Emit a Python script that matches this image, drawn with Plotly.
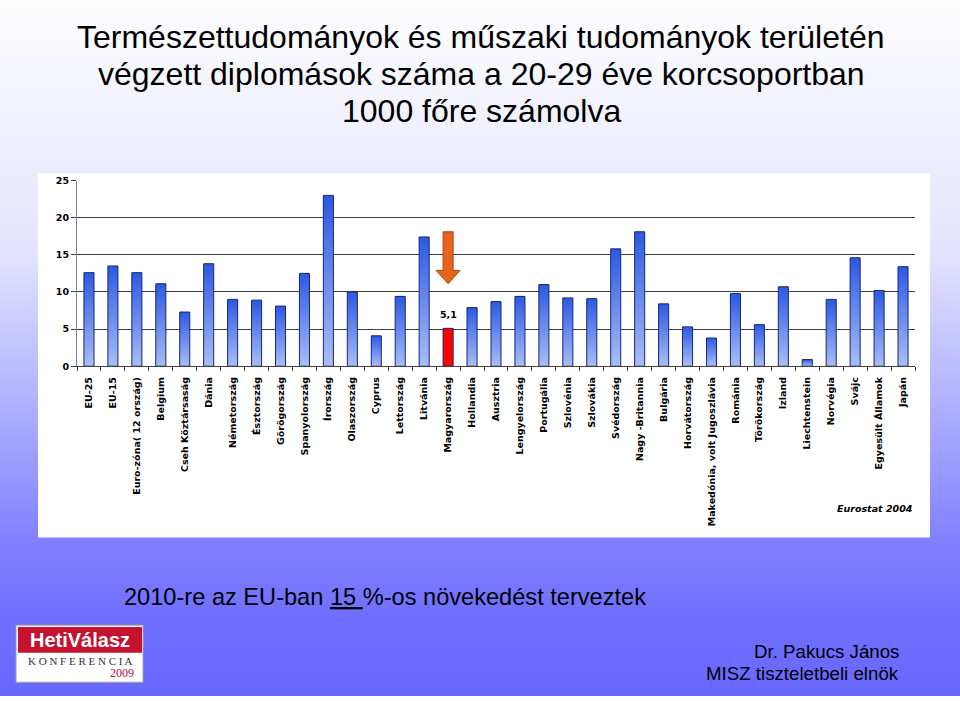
import zlib, struct, base64
import plotly.graph_objects as go

# ---------------- data ----------------
categories = [
    "EU-25", "EU-15", "Euro-zóna( 12 ország)", "Belgium", "Cseh Köztársaság", "Dánia",
    "Németország", "Észtország", "Görögország", "Spanyolország", "Írország", "Olaszország",
    "Cyprus", "Lettország", "Litvánia", "Magyarország", "Hollandia", "Ausztria",
    "Lengyelország", "Portugália", "Szlovénia", "Szlovákia", "Svédország", "Nagy -Britannia",
    "Bulgária", "Horvátország", "Makedónia, volt Jugoszlávia", "Románia", "Törökország",
    "Izland", "Liechtenstein", "Norvégia", "Svájc", "Egyesült Államok", "Japán",
]
values = [
    12.6, 13.5, 12.6, 11.1, 7.3, 13.8,
    9.0, 8.9, 8.1, 12.5, 23.0, 10.0,
    4.1, 9.4, 17.4, 5.1, 7.9, 8.7,
    9.4, 11.0, 9.2, 9.1, 15.8, 18.1,
    8.4, 5.3, 3.8, 9.8, 5.6,
    10.7, 0.9, 9.0, 14.6, 10.2, 13.4,
]
highlight = "Magyarország"
highlight_label = "5,1"
y_ticks = [0, 5, 10, 15, 20, 25]

title_lines = [
    "Természettudományok és műszaki tudományok területén",
    "végzett diplomások száma a 20-29 éve korcsoportban",
    "1000 főre számolva",
]
source_text = "Eurostat 2004"
bottom_text = "2010-re az EU-ban <u>15 </u>%-os növekedést terveztek"
author_lines = ["Dr. Pakucs János", "MISZ tiszteletbeli elnök"]

# ---------------- geometry / style ----------------
W, H = 960, 701
def px(x):
    return x / W
def py(y):
    return 1 - y / H

BAR_W = 0.42
BAR_TOP = "#2b59e6"
BAR_BOTTOM = "#a9bdf8"
BAR_EDGE = "#1a2766"

# background gradient (r=g value, b=255) by pixel row
grad_stops = [(0, 253), (150, 238), (250, 228), (540, 130), (620, 111), (701, 104)]
def grad_val(y):
    for (y0, v0), (y1, v1) in zip(grad_stops[:-1], grad_stops[1:]):
        if y0 <= y <= y1:
            t = (y - y0) / (y1 - y0)
            return int(round(v0 + (v1 - v0) * t))
    return grad_stops[-1][1]

def png_uri(w, h):
    raw = b""
    for y in range(h):
        v = grad_val(y + 0.5)
        raw += b"\x00" + bytes([v, v, 255]) * w
    def chunk(t, d):
        return struct.pack(">I", len(d)) + t + d + struct.pack(">I", zlib.crc32(t + d) & 0xffffffff)
    png = (b"\x89PNG\r\n\x1a\n"
           + chunk(b"IHDR", struct.pack(">IIBBBBB", w, h, 8, 2, 0, 0, 0))
           + chunk(b"IDAT", zlib.compress(raw))
           + chunk(b"IEND", b""))
    return "data:image/png;base64," + base64.b64encode(png).decode()

fig = go.Figure()

# bars as filled polygons with vertical gradient
for i, (cat, v) in enumerate(zip(categories, values)):
    xs = [i - BAR_W / 2, i + BAR_W / 2, i + BAR_W / 2, i - BAR_W / 2, i - BAR_W / 2]
    ys = [0, 0, v, v, 0]
    tr = dict(x=xs, y=ys, mode="lines", fill="toself",
              line=dict(color=BAR_EDGE, width=1), hoverinfo="skip", showlegend=False)
    if cat == highlight:
        tr["fillcolor"] = "#ff0000"
    else:
        tr["fillgradient"] = dict(type="vertical",
                                  colorscale=[[0, BAR_BOTTOM], [1, BAR_TOP]])
    fig.add_trace(go.Scatter(**tr))

# orange arrow pointing at the highlighted bar
hi = categories.index(highlight)
hv = values[hi]
a_tip, a_neck, a_top = hv + 6.0, hv + 7.8, hv + 13.0
sh, hh = 0.21, 0.5
fig.add_trace(go.Scatter(
    x=[hi - sh, hi + sh, hi + sh, hi + hh, hi, hi - hh, hi - sh, hi - sh],
    y=[a_top, a_top, a_neck, a_neck, a_tip, a_neck, a_neck, a_top],
    mode="lines", fill="toself", fillcolor="#e8641c",
    line=dict(color="#a8460f", width=1), hoverinfo="skip", showlegend=False))

annotations = []
annotations.append(dict(x=hi, y=hv + 1.9, xref="x", yref="y", text="<b>" + highlight_label + "</b>",
                        showarrow=False, font=dict(family="DejaVu Sans", size=9.5, color="black")))

# titles
for txt, yc in zip(title_lines, [31, 69, 107]):
    annotations.append(dict(x=px(481), y=py(yc), xref="paper", yref="paper", text=txt,
                            showarrow=False, xanchor="center", yanchor="middle",
                            font=dict(family="Liberation Sans, Arial", size=32, color="black")))

annotations.append(dict(x=px(915), y=py(511), xref="paper", yref="paper",
                        text="<b><i>" + source_text + "</i></b>", showarrow=False,
                        xanchor="right", yanchor="middle",
                        font=dict(family="DejaVu Sans", size=9.5, color="black")))

annotations.append(dict(x=px(122), y=py(600), xref="paper", yref="paper", text=bottom_text,
                        showarrow=False, xanchor="left", yanchor="middle",
                        font=dict(family="Liberation Sans, Arial", size=23.6, color="black")))

for txt, yc in zip(author_lines, [656, 678]):
    annotations.append(dict(x=px(901), y=py(yc), xref="paper", yref="paper", text=txt,
                            showarrow=False, xanchor="right", yanchor="middle",
                            font=dict(family="Liberation Sans, Arial", size=18.7, color="black")))

# logo texts
annotations.append(dict(x=px(80), y=py(644), xref="paper", yref="paper", text="<b>HetiVálasz</b>",
                        showarrow=False, xanchor="center", yanchor="middle",
                        font=dict(family="Liberation Sans Narrow, Liberation Sans", size=20, color="white")))
annotations.append(dict(x=px(80), y=py(665), xref="paper", yref="paper",
                        text="K O N F E R E N C I A", showarrow=False, xanchor="center", yanchor="middle",
                        font=dict(family="Liberation Serif, DejaVu Serif", size=11, color="#333333")))
annotations.append(dict(x=px(122), y=py(678), xref="paper", yref="paper", text="2009",
                        showarrow=False, xanchor="center", yanchor="middle",
                        font=dict(family="Liberation Serif, DejaVu Serif", size=12, color="#b0142e")))

shapes = [
    # white chart panel
    dict(type="rect", xref="paper", yref="paper", x0=px(38), x1=px(930), y0=py(540), y1=py(170),
         fillcolor="white", line=dict(width=0), layer="below"),
    # logo
    dict(type="rect", xref="paper", yref="paper", x0=px(16), x1=px(143), y0=py(687), y1=py(629),
         fillcolor="white", line=dict(color="#a0a0a0", width=1), layer="below"),
    dict(type="rect", xref="paper", yref="paper", x0=px(18), x1=px(142), y0=py(657), y1=py(631),
         fillcolor="#c4122f", line=dict(width=0), layer="below"),
]

fig.update_layout(
    width=W, height=H,
    margin=dict(l=0, r=0, t=0, b=0),
    paper_bgcolor="white",
    plot_bgcolor="rgba(0,0,0,0)",
    showlegend=False,
    images=[dict(source=png_uri(4, H), xref="paper", yref="paper", x=0, y=1, sizex=1, sizey=1,
                 sizing="stretch", xanchor="left", yanchor="top", layer="below")],
    shapes=shapes,
    annotations=annotations,
    xaxis=dict(
        domain=[px(77), px(915)], range=[-0.5, len(categories) - 0.5],
        tickmode="array", tickvals=list(range(len(categories))), ticktext=categories,
        tickangle=-90, ticks="", showgrid=False, zeroline=False,
        showline=True, linecolor="#404040", linewidth=1,
        tickfont=dict(family="DejaVu Sans", size=9.5, color="black", weight="bold"),
        ticklabelstandoff=6,
        minor=dict(tickvals=[i - 0.5 for i in range(len(categories) + 1)], ticks="outside",
                   ticklen=4, tickcolor="#404040", tickwidth=1, showgrid=False),
        fixedrange=True,
    ),
    yaxis=dict(
        domain=[py(366), py(177.3)], range=[0, 25],
        tickmode="array", tickvals=y_ticks, ticktext=[str(t) for t in y_ticks],
        ticks="outside", ticklen=5, tickcolor="#404040",
        showgrid=True, gridcolor="#404040", gridwidth=1, zeroline=False,
        showline=True, linecolor="#808080", linewidth=1,
        tickfont=dict(family="DejaVu Sans", size=9.5, color="black", weight="bold"),
        fixedrange=True,
    ),
)

fig.write_html("out.html")
